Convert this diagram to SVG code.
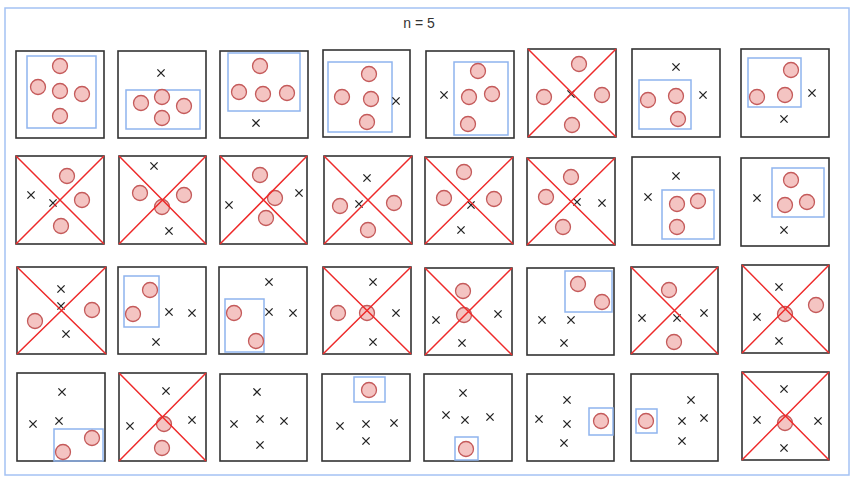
<svg xmlns="http://www.w3.org/2000/svg" xmlns:xlink="http://www.w3.org/1999/xlink" width="855" height="482" viewBox="0 0 855 482">
<style>
.bg{fill:#ffffff}
.frame{fill:none;stroke:#a4c2f4;stroke-width:1.5}
.sq{fill:#ffffff;stroke:#333333;stroke-width:1.6}
.bb{fill:none;stroke:#8fb4ee;stroke-width:1.5}
.c{fill:#f4c4c2;stroke:#c45a5a;stroke-width:1.3}
.xm{fill:none;stroke:#222222;stroke-width:1.3}
.rx{fill:none;stroke:#ee2a2a;stroke-width:1.5}
.title{font-family:"Liberation Sans",Arial,sans-serif;font-size:14px;fill:#333333}
</style>
<defs>
<path id="xm" class="xm" d="M-3.6,-3.6L3.6,3.6M3.6,-3.6L-3.6,3.6"/>
</defs>
<rect class="bg" x="0" y="0" width="855" height="482"/>
<rect class="frame" x="5" y="8" width="844" height="467"/>
<text class="title" x="419" y="28" text-anchor="middle">n = 5</text>

<!-- Row 1 -->
<g id="r1c1"><rect class="sq" x="16" y="51" width="88" height="87"/><rect class="bb" x="27" y="56" width="69" height="72"/>
<circle class="c" cx="60" cy="66" r="7.5"/><circle class="c" cx="38" cy="87" r="7.5"/><circle class="c" cx="60" cy="91" r="7.5"/><circle class="c" cx="82" cy="94" r="7.5"/><circle class="c" cx="60" cy="116" r="7.5"/></g>
<g id="r1c2"><rect class="sq" x="118" y="51" width="88" height="87"/><rect class="bb" x="126" y="90" width="74" height="39"/>
<use href="#xm" x="161" y="73"/>
<circle class="c" cx="141" cy="103" r="7.5"/><circle class="c" cx="162" cy="97" r="7.5"/><circle class="c" cx="184" cy="106" r="7.5"/><circle class="c" cx="162" cy="118" r="7.5"/></g>
<g id="r1c3"><rect class="sq" x="220" y="51" width="88" height="87"/><rect class="bb" x="228" y="53" width="72" height="58"/>
<circle class="c" cx="260" cy="66" r="7.5"/><circle class="c" cx="239" cy="92" r="7.5"/><circle class="c" cx="263" cy="94" r="7.5"/><circle class="c" cx="287" cy="93" r="7.5"/>
<use href="#xm" x="256" y="123"/></g>
<g id="r1c4"><rect class="sq" x="323" y="50" width="87" height="87"/><rect class="bb" x="328" y="62" width="64" height="70"/>
<circle class="c" cx="369" cy="74" r="7.5"/><circle class="c" cx="342" cy="97" r="7.5"/><circle class="c" cx="371" cy="99" r="7.5"/><circle class="c" cx="367" cy="122" r="7.5"/>
<use href="#xm" x="396" y="101"/></g>
<g id="r1c5"><rect class="sq" x="426" y="51" width="88" height="87"/><rect class="bb" x="454" y="62" width="54" height="73"/>
<circle class="c" cx="478" cy="71" r="7.5"/><circle class="c" cx="469" cy="97" r="7.5"/><circle class="c" cx="492" cy="94" r="7.5"/><circle class="c" cx="468" cy="124" r="7.5"/>
<use href="#xm" x="444" y="95"/></g>
<g id="r1c6"><rect class="sq" x="528" y="49" width="88" height="88"/>
<circle class="c" cx="579" cy="64" r="7.5"/><circle class="c" cx="544" cy="97" r="7.5"/><circle class="c" cx="602" cy="95" r="7.5"/><circle class="c" cx="572" cy="125" r="7.5"/>
<use href="#xm" x="571" y="94"/>
<path class="rx" d="M528,49L616,137M616,49L528,137"/></g>
<g id="r1c7"><rect class="sq" x="632" y="49" width="88" height="88"/><rect class="bb" x="639" y="80" width="52" height="49"/>
<use href="#xm" x="676" y="67"/><use href="#xm" x="703" y="95"/>
<circle class="c" cx="648" cy="100" r="7.5"/><circle class="c" cx="676" cy="96" r="7.5"/><circle class="c" cx="678" cy="119" r="7.5"/></g>
<g id="r1c8"><rect class="sq" x="741" y="49" width="88" height="88"/><rect class="bb" x="748" y="58" width="53" height="49"/>
<circle class="c" cx="791" cy="70" r="7.5"/><circle class="c" cx="757" cy="97" r="7.5"/><circle class="c" cx="785" cy="95" r="7.5"/>
<use href="#xm" x="812" y="93"/><use href="#xm" x="784" y="119"/></g>

<!-- Row 2 -->
<g id="r2c1"><rect class="sq" x="16" y="156" width="88" height="88"/>
<circle class="c" cx="67" cy="176" r="7.5"/><circle class="c" cx="82" cy="200" r="7.5"/><circle class="c" cx="61" cy="226" r="7.5"/>
<use href="#xm" x="31" y="195"/><use href="#xm" x="53" y="203"/>
<path class="rx" d="M16,156L104,244M104,156L16,244"/></g>
<g id="r2c2"><rect class="sq" x="119" y="156" width="87" height="88"/>
<circle class="c" cx="140" cy="193" r="7.5"/><circle class="c" cx="162" cy="207" r="7.5"/><circle class="c" cx="184" cy="195" r="7.5"/>
<use href="#xm" x="154" y="166"/><use href="#xm" x="169" y="231"/>
<path class="rx" d="M119,156L206,244M206,156L119,244"/></g>
<g id="r2c3"><rect class="sq" x="220" y="156" width="87" height="88"/>
<circle class="c" cx="260" cy="175" r="7.5"/><circle class="c" cx="275" cy="198" r="7.5"/><circle class="c" cx="266" cy="218" r="7.5"/>
<use href="#xm" x="229" y="205"/><use href="#xm" x="299" y="193"/>
<path class="rx" d="M220,156L307,244M307,156L220,244"/></g>
<g id="r2c4"><rect class="sq" x="324" y="156" width="88" height="88"/>
<circle class="c" cx="340" cy="206" r="7.5"/><circle class="c" cx="368" cy="230" r="7.5"/><circle class="c" cx="394" cy="203" r="7.5"/>
<use href="#xm" x="367" y="178"/><use href="#xm" x="359" y="204"/>
<path class="rx" d="M324,156L412,244M412,156L324,244"/></g>
<g id="r2c5"><rect class="sq" x="425" y="157" width="88" height="87"/>
<circle class="c" cx="464" cy="172" r="7.5"/><circle class="c" cx="444" cy="198" r="7.5"/><circle class="c" cx="494" cy="199" r="7.5"/>
<use href="#xm" x="471" y="205"/><use href="#xm" x="461" y="230"/>
<path class="rx" d="M425,157L513,244M513,157L425,244"/></g>
<g id="r2c6"><rect class="sq" x="527" y="158" width="88" height="87"/>
<circle class="c" cx="571" cy="177" r="7.5"/><circle class="c" cx="546" cy="197" r="7.5"/><circle class="c" cx="563" cy="227" r="7.5"/>
<use href="#xm" x="577" y="202"/><use href="#xm" x="602" y="203"/>
<path class="rx" d="M527,158L615,245M615,158L527,245"/></g>
<g id="r2c7"><rect class="sq" x="632" y="157" width="88" height="88"/><rect class="bb" x="662" y="190" width="52" height="49"/>
<use href="#xm" x="676" y="176"/><use href="#xm" x="648" y="197"/>
<circle class="c" cx="677" cy="204" r="7.5"/><circle class="c" cx="698" cy="201" r="7.5"/><circle class="c" cx="677" cy="227" r="7.5"/></g>
<g id="r2c8"><rect class="sq" x="741" y="158" width="88" height="88"/><rect class="bb" x="772" y="168" width="52" height="49"/>
<use href="#xm" x="757" y="198"/><use href="#xm" x="784" y="230"/>
<circle class="c" cx="791" cy="180" r="7.5"/><circle class="c" cx="785" cy="205" r="7.5"/><circle class="c" cx="807" cy="202" r="7.5"/></g>

<!-- Row 3 -->
<g id="r3c1"><rect class="sq" x="17" y="267" width="89" height="87"/>
<circle class="c" cx="35" cy="321" r="7.5"/><circle class="c" cx="92" cy="310" r="7.5"/>
<use href="#xm" x="61" y="289"/><use href="#xm" x="61" y="306"/><use href="#xm" x="66" y="334"/>
<path class="rx" d="M17,267L106,354M106,267L17,354"/></g>
<g id="r3c2"><rect class="sq" x="118" y="267" width="88" height="87"/><rect class="bb" x="124" y="276" width="35" height="51"/>
<circle class="c" cx="150" cy="290" r="7.5"/><circle class="c" cx="133" cy="314" r="7.5"/>
<use href="#xm" x="169" y="312"/><use href="#xm" x="192" y="313"/><use href="#xm" x="156" y="342"/></g>
<g id="r3c3"><rect class="sq" x="219" y="267" width="88" height="87"/><rect class="bb" x="225" y="299" width="39" height="53"/>
<circle class="c" cx="234" cy="313" r="7.5"/><circle class="c" cx="256" cy="341" r="7.5"/>
<use href="#xm" x="269" y="282"/><use href="#xm" x="269" y="312"/><use href="#xm" x="293" y="313"/></g>
<g id="r3c4"><rect class="sq" x="323" y="267" width="88" height="87"/>
<circle class="c" cx="338" cy="313" r="7.5"/><circle class="c" cx="367" cy="313" r="7.5"/>
<use href="#xm" x="373" y="282"/><use href="#xm" x="396" y="313"/><use href="#xm" x="373" y="342"/>
<path class="rx" d="M323,267L411,354M411,267L323,354"/></g>
<g id="r3c5"><rect class="sq" x="425" y="268" width="87" height="87"/>
<circle class="c" cx="463" cy="291" r="7.5"/><circle class="c" cx="464" cy="315" r="7.5"/>
<use href="#xm" x="436" y="320"/><use href="#xm" x="498" y="314"/><use href="#xm" x="462" y="343"/>
<path class="rx" d="M425,268L512,355M512,268L425,355"/></g>
<g id="r3c6"><rect class="sq" x="527" y="268" width="87" height="87"/><rect class="bb" x="565" y="271" width="47" height="41"/>
<circle class="c" cx="578" cy="284" r="7.5"/><circle class="c" cx="602" cy="302" r="7.5"/>
<use href="#xm" x="542" y="320"/><use href="#xm" x="571" y="320"/><use href="#xm" x="564" y="343"/></g>
<g id="r3c7"><rect class="sq" x="631" y="267" width="87" height="87"/>
<circle class="c" cx="669" cy="290" r="7.5"/><circle class="c" cx="674" cy="342" r="7.5"/>
<use href="#xm" x="642" y="318"/><use href="#xm" x="677" y="318"/><use href="#xm" x="704" y="313"/>
<path class="rx" d="M631,267L718,354M718,267L631,354"/></g>
<g id="r3c8"><rect class="sq" x="742" y="265" width="87" height="88"/>
<circle class="c" cx="816" cy="305" r="7.5"/><circle class="c" cx="785" cy="314" r="7.5"/>
<use href="#xm" x="779" y="287"/><use href="#xm" x="757" y="317"/><use href="#xm" x="779" y="341"/>
<path class="rx" d="M742,265L829,353M829,265L742,353"/></g>

<!-- Row 4 -->
<g id="r4c1"><rect class="sq" x="17" y="373" width="88" height="88"/><rect class="bb" x="54" y="429" width="49" height="32"/>
<use href="#xm" x="62" y="392"/><use href="#xm" x="33" y="424"/><use href="#xm" x="59" y="421"/>
<circle class="c" cx="63" cy="452" r="7.5"/><circle class="c" cx="92" cy="438" r="7.5"/></g>
<g id="r4c2"><rect class="sq" x="119" y="373" width="87" height="88"/>
<circle class="c" cx="164" cy="424" r="7.5"/><circle class="c" cx="162" cy="448" r="7.5"/>
<use href="#xm" x="166" y="391"/><use href="#xm" x="130" y="426"/><use href="#xm" x="192" y="420"/>
<path class="rx" d="M119,373L206,461M206,373L119,461"/></g>
<g id="r4c3"><rect class="sq" x="220" y="374" width="87" height="87"/>
<use href="#xm" x="257" y="392"/><use href="#xm" x="234" y="424"/><use href="#xm" x="260" y="419"/><use href="#xm" x="284" y="421"/><use href="#xm" x="260" y="445"/></g>
<g id="r4c4"><rect class="sq" x="322" y="374" width="88" height="87"/><rect class="bb" x="354" y="377" width="31" height="25"/>
<circle class="c" cx="369" cy="390" r="7.5"/>
<use href="#xm" x="340" y="426"/><use href="#xm" x="366" y="424"/><use href="#xm" x="394" y="423"/><use href="#xm" x="366" y="441"/></g>
<g id="r4c5"><rect class="sq" x="424" y="374" width="88" height="87"/><rect class="bb" x="455" y="437" width="23" height="23"/>
<circle class="c" cx="466" cy="449" r="7.5"/>
<use href="#xm" x="463" y="393"/><use href="#xm" x="446" y="415"/><use href="#xm" x="465" y="420"/><use href="#xm" x="490" y="417"/></g>
<g id="r4c6"><rect class="sq" x="527" y="374" width="87" height="87"/><rect class="bb" x="589" y="408" width="24" height="27"/>
<circle class="c" cx="601" cy="421" r="7.5"/>
<use href="#xm" x="567" y="400"/><use href="#xm" x="539" y="419"/><use href="#xm" x="567" y="424"/><use href="#xm" x="564" y="443"/></g>
<g id="r4c7"><rect class="sq" x="631" y="374" width="87" height="87"/><rect class="bb" x="636" y="409" width="21" height="24"/>
<circle class="c" cx="646" cy="421" r="7.5"/>
<use href="#xm" x="691" y="400"/><use href="#xm" x="682" y="421"/><use href="#xm" x="704" y="418"/><use href="#xm" x="682" y="441"/></g>
<g id="r4c8"><rect class="sq" x="742" y="372" width="87" height="88"/>
<circle class="c" cx="785" cy="423" r="7.5"/>
<use href="#xm" x="784" y="389"/><use href="#xm" x="757" y="420"/><use href="#xm" x="818" y="421"/><use href="#xm" x="784" y="448"/>
<path class="rx" d="M742,372L829,460M829,372L742,460"/></g>
</svg>
